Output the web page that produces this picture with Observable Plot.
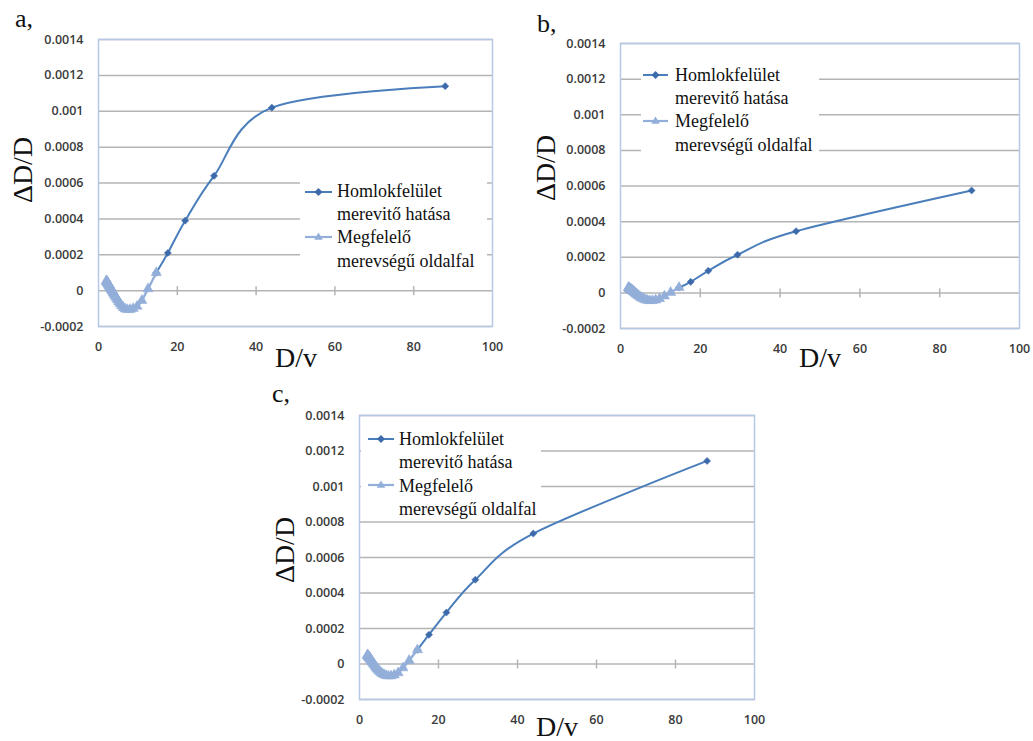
<!DOCTYPE html>
<html>
<head>
<meta charset="utf-8">
<script src="https://cdn.jsdelivr.net/npm/d3@7"></script>
<script src="https://cdn.jsdelivr.net/npm/@observablehq/plot@0.6"></script>
<style>
  body { margin: 0; background: #fff; }
  #root { position: relative; width: 1033px; height: 741px; overflow: hidden; background: #fff; }
  .panel { position: absolute; }
  #overlay { position: absolute; left: 0; top: 0; pointer-events: none; }
</style>
</head>
<body>
<div id="root"></div>
<script>
// ---------- data ----------
const panelNames = ["a,", "b,", "c,"];
const seriesNames = ["Homlokfelület merevitő hatása", "Megfelelő merevségű oldalfal"];
const legendFront = ["Homlokfelület", "merevitő hatása"];
const legendSide = ["Megfelelő", "merevségű oldalfal"];
const yTitle = "ΔD/D";
const xTitle = "D/v";

const xTicks = [0, 20, 40, 60, 80, 100];
const xTickLabels = ["0", "20", "40", "60", "80", "100"];
const yTicks = [-0.0002, 0, 0.0002, 0.0004, 0.0006, 0.0008, 0.001, 0.0012, 0.0014];
const yTickLabels = ["-0.0002", "0", "0.0002", "0.0004", "0.0006", "0.0008", "0.001", "0.0012", "0.0014"];

// D/v values of the front-face (dark) series
const dvFront = [14.67, 17.6, 22, 29.33, 44, 88];
// D/v values of the side-wall (light) series
const dvSide = [2.0, 2.05, 2.1, 2.15, 2.2, 2.26, 2.32, 2.38, 2.44, 2.51,
  2.59, 2.67, 2.75, 2.84, 2.93, 3.03, 3.14, 3.26, 3.38, 3.52,
  3.67, 3.83, 4.0, 4.19, 4.4, 4.63, 4.89, 5.18, 5.5, 5.87,
  6.29, 6.77, 7.33, 8.0, 8.8, 9.78, 11.0, 12.57, 14.67];

const frontA = [0.0001, 0.00021, 0.00039, 0.00064, 0.00102, 0.00114];
const frontB = [0.00003, 0.000062, 0.000124, 0.000214, 0.000346, 0.000575];
const frontC = [0.00008, 0.000165, 0.00029, 0.000475, 0.000735, 0.001144];

const sideA = [0.000055, 0.000053, 0.000052, 0.00005, 0.000048,
  0.000046, 0.000044, 0.000042, 0.00004, 0.000037,
  0.000034, 0.000031, 0.000028, 0.000025, 0.000021,
  0.000017, 0.000013, 0.000008, 0.000003, -0.000002,
  -0.000008, -0.000014, -0.00002, -0.000027, -0.000035,
  -0.000044, -0.000053, -0.000063, -0.000073, -0.000084,
  -0.000094, -0.000102, -0.000106, -0.000105, -0.0001,
  -0.000088, -0.000055, 0.00001, 0.0001];
const sideB = [0.00003, 0.000029, 0.000028, 0.000027, 0.000026,
  0.000025, 0.000024, 0.000023, 0.000022, 0.000021,
  0.00002, 0.000018, 0.000017, 0.000015, 0.000014,
  0.000012, 0.00001, 0.000008, 0.000006, 0.000003,
  0, -0.000003, -0.000007, -0.00001, -0.000014,
  -0.000018, -0.000022, -0.000027, -0.000031, -0.000035,
  -0.000039, -0.000042, -0.000044, -0.000043, -0.00004,
  -0.000033, -0.000018, 0.000002, 0.00003];
const sideC = [0.00005, 0.000049, 0.000048, 0.000046, 0.000045,
  0.000043, 0.000041, 0.00004, 0.000038, 0.000036,
  0.000034, 0.000031, 0.000029, 0.000026, 0.000023,
  0.00002, 0.000016, 0.000012, 0.000008, 0.000004,
  -0.000001, -0.000006, -0.000012, -0.000018, -0.000024,
  -0.00003, -0.000037, -0.000044, -0.00005, -0.000056,
  -0.000061, -0.000065, -0.000068, -0.000067, -0.000062,
  -0.00005, -0.000022, 0.00002, 0.00008];

// ---------- styles ----------
const C_FRONT_LINE = "#4a7ebb";
const C_FRONT_MARK = "#3d6aab";
const C_SIDE = "#93afd9";
const C_GRID = "#b4b4b4";
const C_FRAME = "#b7c8e6";

// ---------- layout ----------
const layouts = [
  { left: 0,   top: 0,   w: 506, h: 370, ml: 98,  mr: 14, mt: 39, mb: 44,
    label: [15, 27], yt: [22, 170], xt: [296, 367],
    leg: { rect: [300, 178, 187, 94], sx: [305, 332], sy: [192, 237], tx: 337, base: [197, 220, 243, 267] } },
  { left: 520, top: 0,   w: 513, h: 370, ml: 100, mr: 14, mt: 43, mb: 42,
    label: [537, 32], yt: [545, 168], xt: [820, 367],
    leg: { rect: [641, 63, 178, 93], sx: [643, 668], sy: [75, 121], tx: 675, base: [81, 104, 127, 151] } },
  { left: 250, top: 370, w: 530, h: 371, ml: 109, mr: 26, mt: 45, mb: 42,
    label: [272, 402], yt: [284, 550], xt: [557, 736],
    leg: { rect: [361, 428, 180, 90], sx: [368, 394], sy: [439, 485], tx: 399, base: [445, 468, 492, 515] } }
];

const fronts = [frontA, frontB, frontC];
const sides = [sideA, sideB, sideC];

const vTick = {
  draw(context, size) {
    const h = Math.sqrt(size / Math.PI);
    context.moveTo(0, -h);
    context.lineTo(0, h);
  }
};

const root = document.getElementById("root");

layouts.forEach((L, k) => {
  const frontData = dvFront.map((x, i) => ({ x, y: fronts[k][i], s: seriesNames[0] }));
  const sideData = dvSide.map((x, i) => ({ x, y: sides[k][i], s: seriesNames[1] }));
  const chart = Plot.plot({
    width: L.w, height: L.h,
    marginLeft: L.ml, marginRight: L.mr, marginTop: L.mt, marginBottom: L.mb,
    style: "font-family: 'Open Sans', sans-serif; font-size: 12.5px; font-weight: 600; color: #3a3a3a; overflow: visible; background: transparent;",
    x: { domain: [0, 100], ticks: xTicks, tickFormat: d => xTickLabels[xTicks.indexOf(d)], tickSize: 0, tickPadding: 16, label: null },
    y: { domain: [-0.0002, 0.0014], ticks: yTicks, tickFormat: d => yTickLabels[yTicks.indexOf(d)], tickSize: 0, tickPadding: 15, label: null },
    marks: [
      Plot.ruleY(yTicks, { stroke: C_GRID, strokeWidth: 1.5 }),
      Plot.dot(xTicks.filter(d => d > 0 && d < 100), { x: d => d, y: 0, symbol: vTick, r: 4.5, fill: "none", stroke: C_GRID, strokeWidth: 1.5 }),
      Plot.frame({ stroke: C_FRAME, strokeWidth: 1.5 }),
      Plot.line(frontData, { x: "x", y: "y", curve: "cardinal", stroke: C_FRONT_LINE, strokeWidth: 2 }),
      Plot.dot(frontData, { x: "x", y: "y", symbol: "diamond2", r: 3.2, fill: C_FRONT_MARK, stroke: C_FRONT_MARK, strokeWidth: 0.5 }),
      Plot.line(sideData, { x: "x", y: "y", curve: "cardinal", stroke: C_SIDE, strokeWidth: 2.4 }),
      Plot.dot(sideData, { x: "x", y: "y", symbol: "triangle", r: 3.8, fill: C_SIDE, stroke: C_SIDE, strokeWidth: 0.5 })
    ]
  });
  const div = document.createElement("div");
  div.className = "panel";
  div.style.left = L.left + "px";
  div.style.top = L.top + "px";
  div.style.width = L.w + "px";
  div.style.height = L.h + "px";
  div.appendChild(chart);
  root.appendChild(div);
});

// ---------- overlay: panel labels, axis titles, legends ----------
const NS = "http://www.w3.org/2000/svg";
const ov = document.createElementNS(NS, "svg");
ov.setAttribute("id", "overlay");
ov.setAttribute("width", 1033);
ov.setAttribute("height", 741);
function el(name, attrs, text) {
  const e = document.createElementNS(NS, name);
  for (const a in attrs) e.setAttribute(a, attrs[a]);
  if (text != null) e.textContent = text;
  ov.appendChild(e);
  return e;
}
const SERIF = "'Liberation Serif', 'DejaVu Serif', serif";
const diamondPath = (cx, cy, r) => `M${cx},${cy - r}L${cx + r},${cy}L${cx},${cy + r}L${cx - r},${cy}Z`;
const trianglePath = (cx, cy, r) => `M${cx},${cy - r}L${cx + r * 0.95},${cy + r * 0.6}L${cx - r * 0.95},${cy + r * 0.6}Z`;

layouts.forEach((L, k) => {
  el("text", { x: L.label[0], y: L.label[1], "font-family": SERIF, "font-size": 26, fill: "#111" }, panelNames[k]);
  el("text", { x: 0, y: 0, transform: `translate(${L.yt[0]},${L.yt[1]}) rotate(-90)`, "text-anchor": "middle",
    "dominant-baseline": "central", "font-family": SERIF, "font-size": 28, fill: "#111" }, yTitle);
  el("text", { x: L.xt[0], y: L.xt[1], "text-anchor": "middle", "font-family": SERIF, "font-size": 28, fill: "#111" }, xTitle);
  const g = L.leg;
  el("rect", { x: g.rect[0], y: g.rect[1], width: g.rect[2], height: g.rect[3], fill: "#fff" });
  el("line", { x1: g.sx[0], x2: g.sx[1], y1: g.sy[0], y2: g.sy[0], stroke: C_FRONT_LINE, "stroke-width": 2 });
  el("path", { d: diamondPath((g.sx[0] + g.sx[1]) / 2, g.sy[0], 4), fill: C_FRONT_MARK });
  el("line", { x1: g.sx[0], x2: g.sx[1], y1: g.sy[1], y2: g.sy[1], stroke: C_SIDE, "stroke-width": 2.2 });
  el("path", { d: trianglePath((g.sx[0] + g.sx[1]) / 2, g.sy[1], 4.5), fill: C_SIDE });
  const lines = [legendFront[0], legendFront[1], legendSide[0], legendSide[1]];
  lines.forEach((t, i) => {
    el("text", { x: g.tx, y: g.base[i], "font-family": SERIF, "font-size": 18, fill: "#111" }, t);
  });
});
root.appendChild(ov);
</script>
</body>
</html>
